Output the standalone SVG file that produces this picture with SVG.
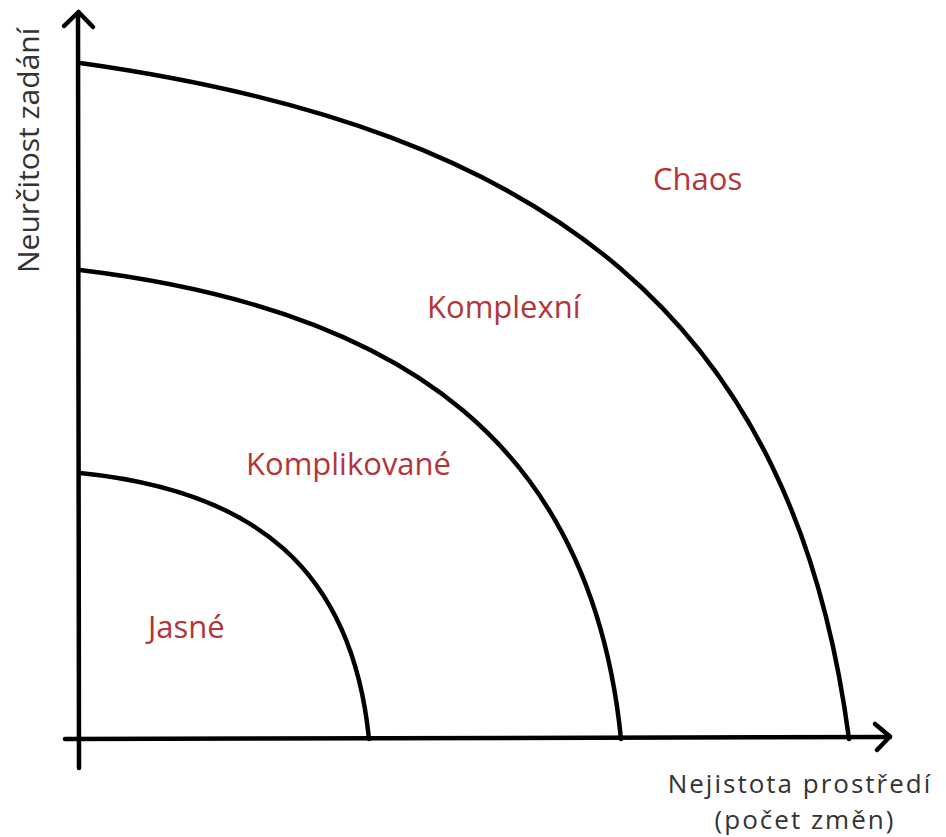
<svg xmlns="http://www.w3.org/2000/svg" width="946" height="837" viewBox="0 0 946 837">
  <style>
    .ax { fill: none; stroke: #000; stroke-width: 4.5; stroke-linecap: round; stroke-linejoin: round; }
    .curve { fill: none; stroke: #000; stroke-width: 4.5; stroke-linecap: round; }
    .zone { font-family: "Open Sans", "Noto Sans", sans-serif; font-size: 31px; fill: #b5343a; }
    .axlabel { font-family: "Open Sans", "Noto Sans", sans-serif; font-size: 30px; fill: #333; }
    .xlab { font-size: 26px; letter-spacing: 2px; }
  </style>
  <rect width="946" height="837" fill="#fff"/>
  <g id="connectors">
    <path class="ax" d="M79 768 L78 13"/>
    <path class="ax" d="M64 26 L78.5 12 L93 27"/>
    <path class="ax" d="M65 739 L890 737"/>
    <path class="ax" d="M875 724 L890 736.5 L877 750"/>
    <path class="curve" d="M80 63 C550 129 794 319 849 739"/>
    <path class="curve" d="M80 270 C410 310 592 449 621 739"/>
    <path class="curve" d="M80 473 C255 490.5 352 569 369 739"/>
  </g>
  <g id="chaos"><text class="zone" x="653" y="190">Chaos</text></g>
  <g id="komplexni"><text class="zone" x="427" y="318">Komplexní</text></g>
  <g id="komplikovane"><text class="zone" x="246" y="475">Komplikované</text></g>
  <g id="jasne"><text class="zone" x="148" y="638">Jasné</text></g>
  <g id="y-label"><text class="axlabel" transform="translate(39 273) rotate(-90)">Neurčitost zadání</text></g>
  <g id="x-label">
    <text class="axlabel xlab" x="800" y="793" text-anchor="middle">Nejistota prostředí</text>
    <text class="axlabel xlab" x="805" y="829" text-anchor="middle">(počet změn)</text>
  </g>
</svg>
